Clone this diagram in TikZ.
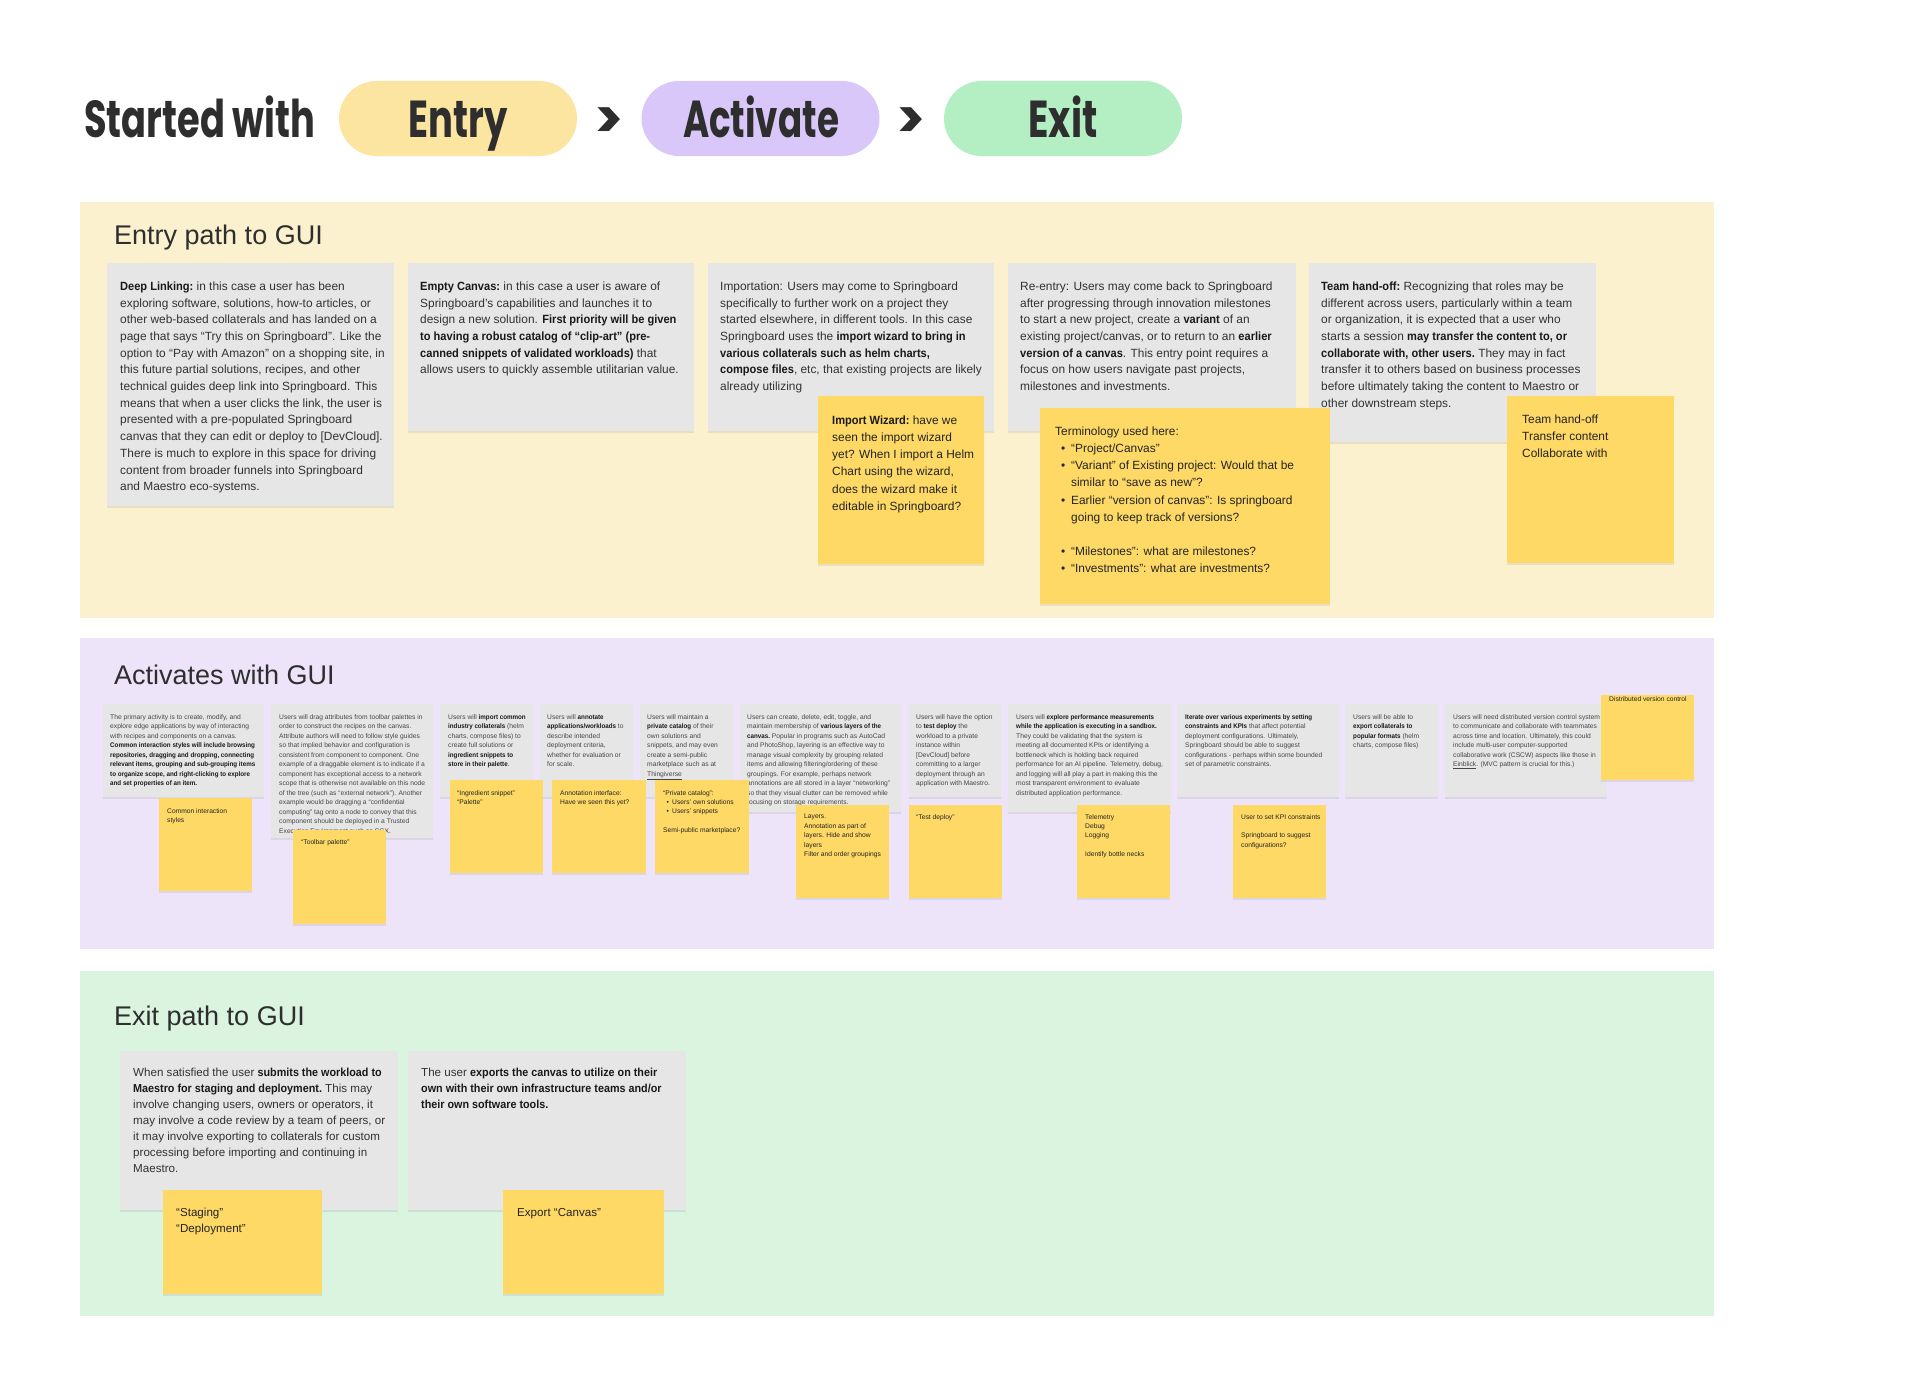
\documentclass[tikz,border=0pt]{standalone}
\usepackage{fontspec}
\usepackage{graphicx}
\setmainfont{Liberation Sans}
\newfontfamily\titlefont{Poppins}
\usetikzlibrary{shadows}
\definecolor{titlecol}{RGB}{46,46,46}
\definecolor{entrypill}{RGB}{251,229,160}
\definecolor{actpill}{RGB}{218,199,250}
\definecolor{exitpill}{RGB}{180,239,196}
\definecolor{entrybg}{RGB}{252,241,207}
\definecolor{actbg}{RGB}{237,228,250}
\definecolor{exitbg}{RGB}{218,244,224}
\definecolor{cardgrey}{RGB}{230,230,230}
\definecolor{stickyyel}{RGB}{255,217,102}
\definecolor{txtdark}{RGB}{50,50,50}
\definecolor{txtmid}{RGB}{70,70,70}
\definecolor{boldcol}{RGB}{25,25,25}
\definecolor{stickytxt}{RGB}{35,35,35}
\newcommand\bt[1]{\scalebox{0.93}[1]{\textbf{\color{boldcol}#1}}}
\newcommand\bul{\hspace*{0.5em}\makebox[0.84em][l]{\textbullet}}
\begin{document}
\begin{tikzpicture}[x=1pt,y=-1pt,
 card/.style={fill=cardgrey, anchor=north west, inner sep=0pt, outer sep=0pt, drop shadow={shadow xshift=0pt, shadow yshift=-1.5pt, opacity=0.15}},
 sticky/.style={fill=stickyyel, anchor=north west, inner sep=0pt, outer sep=0pt, drop shadow={shadow xshift=0pt, shadow yshift=-1.5pt, opacity=0.15}},
 sec/.style={anchor=north west, inner sep=0pt, outer sep=0pt, minimum width=1634pt},
 pill/.style={rounded corners=37.5pt, inner sep=0pt, minimum width=238pt, minimum height=75pt},
 ptext/.style={anchor=base, inner sep=0pt, text=titlecol, font=\titlefont\bfseries\fontsize{52}{60}\selectfont},
 sectitle/.style={anchor=base west, inner sep=0pt, text=titlecol, font=\fontsize{27}{32}\selectfont},
 etext/.style={anchor=north west, inner sep=0pt, align=left, text=txtdark, font=\fontsize{11.9}{16.7}\selectfont},
 stext/.style={anchor=north west, inner sep=0pt, align=left, text=stickytxt, font=\fontsize{11.9}{17.2}\selectfont},
 atext/.style={anchor=north west, inner sep=0pt, align=left, text=txtmid, font=\fontsize{6.7}{9.5}\selectfont},
 astext/.style={anchor=north west, inner sep=0pt, align=left, text=stickytxt, font=\fontsize{6.7}{9.4}\selectfont},
 xtext/.style={anchor=north west, inner sep=0pt, align=left, text=txtdark, font=\fontsize{11.6}{15.9}\selectfont},
]
\useasboundingbox[fill=white] (0,0) rectangle (1920,1397);

% ---------------- header ----------------
\node[ptext, anchor=base west] (started) at (84,137) {\resizebox{231pt}{\height}{Started with}};
\node[pill, fill=entrypill] (pentry) at (458,118.5) {};
\node[pill, fill=actpill] (pact) at (760.5,118.5) {};
\node[pill, fill=exitpill] (pexit) at (1063,118.5) {};
\node[ptext] (tentry) at (458,137) {\resizebox{99pt}{\height}{Entry}};
\node[ptext] (tact) at (761,137) {\resizebox{156pt}{\height}{Activate}};
\node[ptext] (texit) at (1063,137) {\resizebox{69pt}{\height}{Exit}};
\node[ptext, anchor=center, font=\titlefont\bfseries\fontsize{54}{60}\selectfont] (gt1) at (609,123) {>};
\node[ptext, anchor=center, font=\titlefont\bfseries\fontsize{54}{60}\selectfont] (gt2) at (911,123) {>};

% ---------------- sections ----------------
\node[sec, fill=entrybg, minimum height=416pt] (secentry) at (80,202) {};
\node[sec, fill=actbg, minimum height=311pt] (secact) at (80,638) {};
\node[sec, fill=exitbg, minimum height=345pt] (secexit) at (80,971) {};
\node[sectitle] (ttlentry) at (114,244) {Entry path to GUI};
\node[sectitle] (ttlact) at (114,684) {Activates with GUI};
\node[sectitle] (ttlexit) at (114,1025) {Exit path to GUI};

% ---------------- entry cards ----------------
\node[card, minimum width=287pt, minimum height=243pt] (ec1) at (107,263) {};
\node[etext] (ec1t) at (120,281.5) {\bt{Deep Linking:} in this case a user has been\\
exploring software, solutions, how-to articles, or\\
other web-based collaterals and has landed on a\\
page that says “Try this on Springboard”. Like the\\
option to “Pay with Amazon” on a shopping site, in\\
this future partial solutions, recipes, and other\\
technical guides deep link into Springboard. This\\
means that when a user clicks the link, the user is\\
presented with a pre-populated Springboard\\
canvas that they can edit or deploy to [DevCloud].\\
There is much to explore in this space for driving\\
content from broader funnels into Springboard\\
and Maestro eco-systems.};

\node[card, minimum width=286pt, minimum height=168pt] (ec2) at (408,263) {};
\node[etext] (ec2t) at (420,281.5) {\bt{Empty Canvas:} in this case a user is aware of\\
Springboard’s capabilities and launches it to\\
design a new solution. \bt{First priority will be given}\\
\bt{to having a robust catalog of “clip-art” (pre-}\\
\bt{canned snippets of validated workloads)} that\\
allows users to quickly assemble utilitarian value.};

\node[card, minimum width=286pt, minimum height=168pt] (ec3) at (708,263) {};
\node[etext] (ec3t) at (720,281.5) {Importation: Users may come to Springboard\\
specifically to further work on a project they\\
started elsewhere, in different tools. In this case\\
Springboard uses the \bt{import wizard to bring in}\\
\bt{various collaterals such as helm charts,}\\
\bt{compose files}, etc, that existing projects are likely\\
already utilizing};

\node[card, minimum width=288pt, minimum height=168pt] (ec4) at (1008,263) {};
\node[etext] (ec4t) at (1020,281.5) {Re-entry: Users may come back to Springboard\\
after progressing through innovation milestones\\
to start a new project, create a \bt{variant} of an\\
existing project/canvas, or to return to an \bt{earlier}\\
\bt{version of a canvas}. This entry point requires a\\
focus on how users navigate past projects,\\
milestones and investments.};

\node[card, minimum width=287pt, minimum height=179pt] (ec5) at (1309,263) {};
\node[etext] (ec5t) at (1321,281.5) {\bt{Team hand-off:} Recognizing that roles may be\\
different across users, particularly within a team\\
or organization, it is expected that a user who\\
starts a session \bt{may transfer the content to, or}\\
\bt{collaborate with, other users.} They may in fact\\
transfer it to others based on business processes\\
before ultimately taking the content to Maestro or\\
other downstream steps.};

% entry stickies
\node[sticky, minimum width=166pt, minimum height=168pt] (es1) at (818,396) {};
\node[stext] (es1t) at (832,415.5) {\bt{Import Wizard:} have we\\
seen the import wizard\\
yet? When I import a Helm\\
Chart using the wizard,\\
does the wizard make it\\
editable in Springboard?};

\node[sticky, minimum width=290pt, minimum height=196pt] (es2) at (1040,408) {};
\node[stext] (es2t) at (1055,426.5) {Terminology used here:\\
\bul“Project/Canvas”\\
\bul“Variant” of Existing project: Would that be\\
\hspace*{1.34em}similar to “save as new”?\\
\bul Earlier “version of canvas”: Is springboard\\
\hspace*{1.34em}going to keep track of versions?\\
\mbox{}\\
\bul“Milestones”: what are milestones?\\
\bul“Investments”: what are investments?};

\node[sticky, minimum width=167pt, minimum height=167pt] (es3) at (1507,396) {};
\node[stext] (es3t) at (1522,414.5) {Team hand-off\\Transfer content\\Collaborate with};

% ---------------- activate cards ----------------
\node[card, minimum width=161pt, minimum height=93pt] (ac1) at (103,704) {};
\node[atext] (ac1t) at (110,714) {The primary activity is to create, modify, and\\
explore edge applications by way of interacting\\
with recipes and components on a canvas.\\
\bt{Common interaction styles will include browsing}\\
\bt{repositories, dragging and dropping, connecting}\\
\bt{relevant items, grouping and sub-grouping items}\\
\bt{to organize scope, and right-clicking to explore}\\
\bt{and set properties of an item.}};

\node[card, minimum width=162pt, minimum height=134pt] (ac2) at (271,704) {};
\node[atext] (ac2t) at (279,714) {Users will drag attributes from toolbar palettes in\\
order to construct the recipes on the canvas.\\
Attribute authors will need to follow style guides\\
so that implied behavior and configuration is\\
consistent from component to component. One\\
example of a draggable element is to indicate if a\\
component has exceptional access to a network\\
scope that is otherwise not available on this node\\
of the tree (such as “external network”). Another\\
example would be dragging a “confidential\\
computing” tag onto a node to convey that this\\
component should be deployed in a Trusted\\
Execution Environment such as SGX.};

\node[card, minimum width=93pt, minimum height=93pt] (ac3) at (440,704) {};
\node[atext] (ac3t) at (448,714) {Users will \bt{import common}\\
\bt{industry collaterals} (helm\\
charts, compose files) to\\
create full solutions or\\
\bt{ingredient snippets to}\\
\bt{store in their palette}.};

\node[card, minimum width=93pt, minimum height=93pt] (ac4) at (540,704) {};
\node[atext] (ac4t) at (547,714) {Users will \bt{annotate}\\
\bt{applications/workloads} to\\
describe intended\\
deployment criteria,\\
whether for evaluation or\\
for scale.};

\node[card, minimum width=93pt, minimum height=93pt] (ac5) at (640,704) {};
\node[atext] (ac5t) at (647,714) {Users will maintain a\\
\bt{private catalog} of their\\
own solutions and\\
snippets, and may even\\
create a semi-public\\
marketplace such as at\\
\underline{Thingiverse}};

\node[card, minimum width=161pt, minimum height=108pt] (ac6) at (740,704) {};
\node[atext] (ac6t) at (747,714) {Users can create, delete, edit, toggle, and\\
maintain membership of \bt{various layers of the}\\
\bt{canvas.} Popular in programs such as AutoCad\\
and PhotoShop, layering is an effective way to\\
manage visual complexity by grouping related\\
items and allowing filtering/ordering of these\\
groupings. For example, perhaps network\\
annotations are all stored in a layer “networking”\\
so that they visual clutter can be removed while\\
focusing on storage requirements.};

\node[card, minimum width=92pt, minimum height=93pt] (ac7) at (909,704) {};
\node[atext] (ac7t) at (916,714) {Users will have the option\\
to \bt{test deploy} the\\
workload to a private\\
instance within\\
{[DevCloud]} before\\
committing to a larger\\
deployment through an\\
application with Maestro.};

\node[card, minimum width=163pt, minimum height=108pt] (ac8) at (1008,704) {};
\node[atext] (ac8t) at (1016,714) {Users will \bt{explore performance measurements}\\
\bt{while the application is executing in a sandbox.}\\
They could be validating that the system is\\
meeting all documented KPIs or identifying a\\
bottleneck which is holding back required\\
performance for an AI pipeline. Telemetry, debug,\\
and logging will all play a part in making this the\\
most transparent environment to evaluate\\
distributed application performance.};

\node[card, minimum width=162pt, minimum height=93pt] (ac9) at (1177,704) {};
\node[atext] (ac9t) at (1185,714) {\bt{Iterate over various experiments by setting}\\
\bt{constraints and KPIs} that affect potential\\
deployment configurations. Ultimately,\\
Springboard should be able to suggest\\
configurations - perhaps within some bounded\\
set of parametric constraints.};

\node[card, minimum width=93pt, minimum height=93pt] (ac10) at (1345,704) {};
\node[atext] (ac10t) at (1353,714) {Users will be able to\\
\bt{export collaterals to}\\
\bt{popular formats} (helm\\
charts, compose files)};

\node[card, minimum width=162pt, minimum height=93pt] (ac11) at (1445,704) {};
\node[atext] (ac11t) at (1453,714) {Users will need distributed version control system\\
to communicate and collaborate with teammates\\
across time and location. Ultimately, this could\\
include multi-user computer-supported\\
collaborative work (CSCW) aspects like those in\\
\underline{Einblick}. (MVC pattern is crucial for this.)};

% activate stickies
\node[sticky, minimum width=93pt, minimum height=93pt] (as1) at (159,798) {};
\node[astext] (as1t) at (167,808) {Common interaction\\styles};
\node[sticky, minimum width=93pt, minimum height=94pt] (as2) at (293,830) {};
\node[astext] (as2t) at (301,839) {“Toolbar palette”};
\node[sticky, minimum width=93pt, minimum height=93pt] (as3) at (450,780) {};
\node[astext] (as3t) at (457,790) {“Ingredient snippet”\\“Palette”};
\node[sticky, minimum width=94pt, minimum height=93pt] (as4) at (552,780) {};
\node[astext] (as4t) at (560,790) {Annotation interface:\\Have we seen this yet?};
\node[sticky, minimum width=94pt, minimum height=93pt] (as5) at (655,780) {};
\node[astext] (as5t) at (663,790) {“Private catalog”:\\
\bul Users’ own solutions\\
\bul Users’ snippets\\
\mbox{}\\
Semi-public marketplace?};
\node[sticky, minimum width=93pt, minimum height=93pt] (as6) at (796,805) {};
\node[astext] (as6t) at (804,814) {Layers.\\Annotation as part of\\layers. Hide and show\\layers\\Filter and order groupings};
\node[sticky, minimum width=93pt, minimum height=93pt] (as7) at (909,805) {};
\node[astext] (as7t) at (916,814) {“Test deploy”};
\node[sticky, minimum width=93pt, minimum height=93pt] (as8) at (1077,805) {};
\node[astext] (as8t) at (1085,814) {Telemetry\\Debug\\Logging\\ \mbox{}\\Identify bottle necks};
\node[sticky, minimum width=93pt, minimum height=93pt] (as9) at (1233,805) {};
\node[astext] (as9t) at (1241,814) {User to set KPI constraints\\ \mbox{}\\Springboard to suggest\\configurations?};
\node[sticky, minimum width=93pt, minimum height=85pt] (as10) at (1601,695) {};
\node[astext] (as10t) at (1609,696.5) {Distributed version control};

% ---------------- exit cards ----------------
\node[card, minimum width=278pt, minimum height=159pt] (xc1) at (120,1051) {};
\node[xtext] (xc1t) at (133,1068) {When satisfied the user \bt{submits the workload to}\\
\bt{Maestro for staging and deployment.} This may\\
involve changing users, owners or operators, it\\
may involve a code review by a team of peers, or\\
it may involve exporting to collaterals for custom\\
processing before importing and continuing in\\
Maestro.};
\node[card, minimum width=278pt, minimum height=159pt] (xc2) at (408,1051) {};
\node[xtext] (xc2t) at (421,1068) {The user \bt{exports the canvas to utilize on their}\\
\bt{own with their own infrastructure teams and/or}\\
\bt{their own software tools.}};

\node[sticky, minimum width=159pt, minimum height=104pt] (xs1) at (163,1190) {};
\node[xtext, text=stickytxt] (xs1t) at (176,1208) {“Staging”\\“Deployment”};
\node[sticky, minimum width=161pt, minimum height=104pt] (xs2) at (503,1190) {};
\node[xtext, text=stickytxt] (xs2t) at (517,1208) {Export “Canvas”};
\end{tikzpicture}
\end{document}
